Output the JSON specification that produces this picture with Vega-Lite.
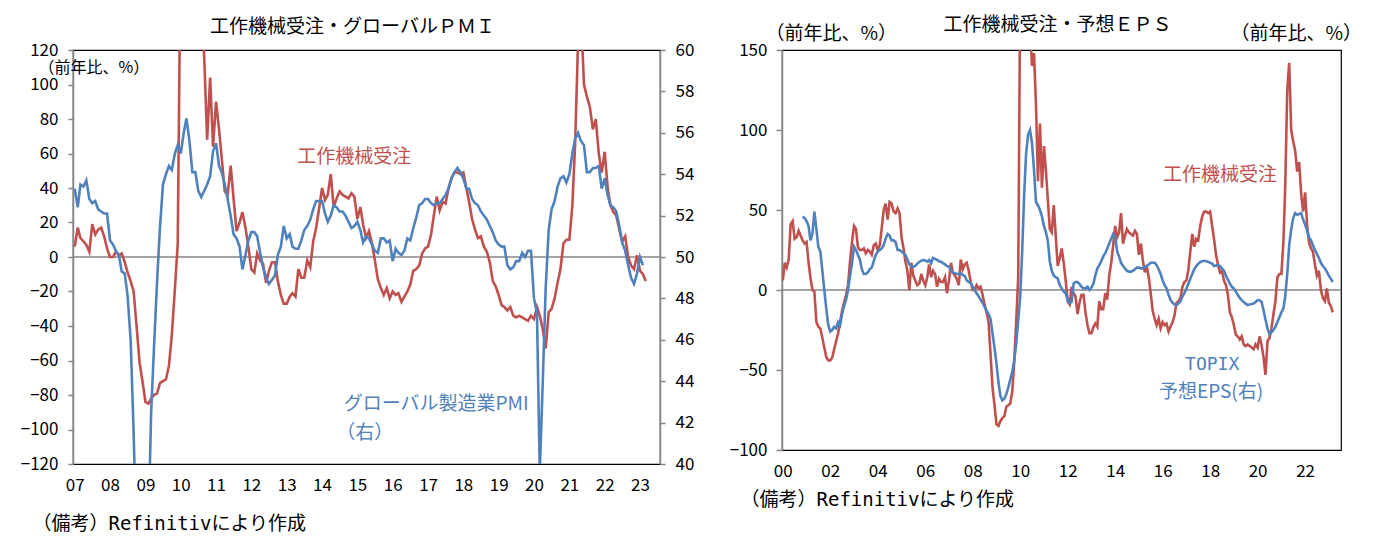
{
  "$schema": "https://vega.github.io/schema/vega-lite/v6.json",
  "background": "white",
  "padding": {"left": 19, "top": 15, "right": 5, "bottom": 5},
  "spacing": 33,
  "config": {
    "font": "Noto Sans CJK JP",
    "view": {"stroke": "#000000", "strokeWidth": 1.2},
    "axis": {"labelFont": "Noto Sans CJK JP", "labelFontSize": 17, "labelColor": "#000000", "domainColor": "#868686", "domainWidth": 1.5, "tickColor": "#868686", "tickWidth": 1.5, "grid": false, "titleFont": "Noto Sans CJK JP", "titleFontSize": 19, "titleFontWeight": "normal", "titleColor": "#000000", "labelOverlap": false, "labelFlush": false},
    "title": {"font": "Noto Sans CJK JP", "fontSize": 19, "fontWeight": "normal", "color": "#000000", "offset": 4}
  },
  "datasets": {
    "orders": [
      {"date":"2000-01","yoy":6},{"date":"2000-02","yoy":17},{"date":"2000-03","yoy":14},{"date":"2000-04","yoy":19},{"date":"2000-05","yoy":41},{"date":"2000-06","yoy":43},{"date":"2000-07","yoy":32},{"date":"2000-08","yoy":33},{"date":"2000-09","yoy":37},{"date":"2000-10","yoy":34},{"date":"2000-11","yoy":31},{"date":"2000-12","yoy":29},
      {"date":"2001-01","yoy":30},{"date":"2001-02","yoy":17},{"date":"2001-03","yoy":8},{"date":"2001-04","yoy":0},{"date":"2001-05","yoy":-1},{"date":"2001-06","yoy":-20},{"date":"2001-07","yoy":-23},{"date":"2001-08","yoy":-24},{"date":"2001-09","yoy":-30},{"date":"2001-10","yoy":-36},{"date":"2001-11","yoy":-42},{"date":"2001-12","yoy":-44},
      {"date":"2002-01","yoy":-44},{"date":"2002-02","yoy":-42},{"date":"2002-03","yoy":-37},{"date":"2002-04","yoy":-32},{"date":"2002-05","yoy":-27},{"date":"2002-06","yoy":-20},{"date":"2002-07","yoy":-13},{"date":"2002-08","yoy":-8},{"date":"2002-09","yoy":-3},{"date":"2002-10","yoy":3},{"date":"2002-11","yoy":18},{"date":"2002-12","yoy":30},
      {"date":"2003-01","yoy":40},{"date":"2003-02","yoy":38},{"date":"2003-03","yoy":27},{"date":"2003-04","yoy":25},{"date":"2003-05","yoy":25},{"date":"2003-06","yoy":26},{"date":"2003-07","yoy":23},{"date":"2003-08","yoy":25},{"date":"2003-09","yoy":24},{"date":"2003-10","yoy":22},{"date":"2003-11","yoy":28},{"date":"2003-12","yoy":29},
      {"date":"2004-01","yoy":25},{"date":"2004-02","yoy":28},{"date":"2004-03","yoy":38},{"date":"2004-04","yoy":50},{"date":"2004-05","yoy":54},{"date":"2004-06","yoy":44},{"date":"2004-07","yoy":55},{"date":"2004-08","yoy":54},{"date":"2004-09","yoy":49},{"date":"2004-10","yoy":48},{"date":"2004-11","yoy":51},{"date":"2004-12","yoy":48},
      {"date":"2005-01","yoy":33},{"date":"2005-02","yoy":26},{"date":"2005-03","yoy":18},{"date":"2005-04","yoy":12},{"date":"2005-05","yoy":0},{"date":"2005-06","yoy":17},{"date":"2005-07","yoy":9},{"date":"2005-08","yoy":6},{"date":"2005-09","yoy":3},{"date":"2005-10","yoy":4},{"date":"2005-11","yoy":10},{"date":"2005-12","yoy":6},
      {"date":"2006-01","yoy":3},{"date":"2006-02","yoy":8},{"date":"2006-03","yoy":16},{"date":"2006-04","yoy":8},{"date":"2006-05","yoy":12},{"date":"2006-06","yoy":10},{"date":"2006-07","yoy":2},{"date":"2006-08","yoy":7},{"date":"2006-09","yoy":5},{"date":"2006-10","yoy":5},{"date":"2006-11","yoy":8},{"date":"2006-12","yoy":-2},
      {"date":"2007-01","yoy":6},{"date":"2007-02","yoy":17},{"date":"2007-03","yoy":11},{"date":"2007-04","yoy":9},{"date":"2007-05","yoy":7},{"date":"2007-06","yoy":3},{"date":"2007-07","yoy":19},{"date":"2007-08","yoy":13},{"date":"2007-09","yoy":16},{"date":"2007-10","yoy":17},{"date":"2007-11","yoy":12},{"date":"2007-12","yoy":5},
      {"date":"2008-01","yoy":0},{"date":"2008-02","yoy":0},{"date":"2008-03","yoy":3},{"date":"2008-04","yoy":1},{"date":"2008-05","yoy":2},{"date":"2008-06","yoy":-3},{"date":"2008-07","yoy":-9},{"date":"2008-08","yoy":-14},{"date":"2008-09","yoy":-20},{"date":"2008-10","yoy":-40},{"date":"2008-11","yoy":-61},{"date":"2008-12","yoy":-72},
      {"date":"2009-01","yoy":-84},{"date":"2009-02","yoy":-85},{"date":"2009-03","yoy":-82},{"date":"2009-04","yoy":-80},{"date":"2009-05","yoy":-79},{"date":"2009-06","yoy":-73},{"date":"2009-07","yoy":-72},{"date":"2009-08","yoy":-71},{"date":"2009-09","yoy":-63},{"date":"2009-10","yoy":-45},{"date":"2009-11","yoy":-19},{"date":"2009-12","yoy":8},
      {"date":"2010-01","yoy":191},{"date":"2010-02","yoy":230},{"date":"2010-03","yoy":215},{"date":"2010-04","yoy":180},{"date":"2010-05","yoy":175},{"date":"2010-06","yoy":165},{"date":"2010-07","yoy":140},{"date":"2010-08","yoy":148},{"date":"2010-09","yoy":115},{"date":"2010-10","yoy":68},{"date":"2010-11","yoy":104},{"date":"2010-12","yoy":64},
      {"date":"2011-01","yoy":90},{"date":"2011-02","yoy":74},{"date":"2011-03","yoy":57},{"date":"2011-04","yoy":38},{"date":"2011-05","yoy":36},{"date":"2011-06","yoy":53},{"date":"2011-07","yoy":34},{"date":"2011-08","yoy":15},{"date":"2011-09","yoy":20},{"date":"2011-10","yoy":26},{"date":"2011-11","yoy":17},{"date":"2011-12","yoy":6},
      {"date":"2012-01","yoy":-7},{"date":"2012-02","yoy":-9},{"date":"2012-03","yoy":2},{"date":"2012-04","yoy":-2},{"date":"2012-05","yoy":-4},{"date":"2012-06","yoy":-15},{"date":"2012-07","yoy":-8},{"date":"2012-08","yoy":-3},{"date":"2012-09","yoy":-3},{"date":"2012-10","yoy":-14},{"date":"2012-11","yoy":-22},{"date":"2012-12","yoy":-27},
      {"date":"2013-01","yoy":-27},{"date":"2013-02","yoy":-23},{"date":"2013-03","yoy":-21},{"date":"2013-04","yoy":-23},{"date":"2013-05","yoy":-7},{"date":"2013-06","yoy":-12},{"date":"2013-07","yoy":-12},{"date":"2013-08","yoy":-2},{"date":"2013-09","yoy":-6},{"date":"2013-10","yoy":9},{"date":"2013-11","yoy":17},{"date":"2013-12","yoy":28},
      {"date":"2014-01","yoy":40},{"date":"2014-02","yoy":33},{"date":"2014-03","yoy":36},{"date":"2014-04","yoy":48},{"date":"2014-05","yoy":29},{"date":"2014-06","yoy":34},{"date":"2014-07","yoy":38},{"date":"2014-08","yoy":36},{"date":"2014-09","yoy":35},{"date":"2014-10","yoy":34},{"date":"2014-11","yoy":37},{"date":"2014-12","yoy":35},
      {"date":"2015-01","yoy":22},{"date":"2015-02","yoy":29},{"date":"2015-03","yoy":19},{"date":"2015-04","yoy":11},{"date":"2015-05","yoy":15},{"date":"2015-06","yoy":8},{"date":"2015-07","yoy":-2},{"date":"2015-08","yoy":-13},{"date":"2015-09","yoy":-18},{"date":"2015-10","yoy":-22},{"date":"2015-11","yoy":-18},{"date":"2015-12","yoy":-24},
      {"date":"2016-01","yoy":-20},{"date":"2016-02","yoy":-22},{"date":"2016-03","yoy":-21},{"date":"2016-04","yoy":-26},{"date":"2016-05","yoy":-23},{"date":"2016-06","yoy":-20},{"date":"2016-07","yoy":-16},{"date":"2016-08","yoy":-8},{"date":"2016-09","yoy":-7},{"date":"2016-10","yoy":-5},{"date":"2016-11","yoy":2},{"date":"2016-12","yoy":5},
      {"date":"2017-01","yoy":6},{"date":"2017-02","yoy":13},{"date":"2017-03","yoy":24},{"date":"2017-04","yoy":35},{"date":"2017-05","yoy":27},{"date":"2017-06","yoy":32},{"date":"2017-07","yoy":31},{"date":"2017-08","yoy":40},{"date":"2017-09","yoy":46},{"date":"2017-10","yoy":49},{"date":"2017-11","yoy":49},{"date":"2017-12","yoy":48},
      {"date":"2018-01","yoy":49},{"date":"2018-02","yoy":40},{"date":"2018-03","yoy":32},{"date":"2018-04","yoy":22},{"date":"2018-05","yoy":16},{"date":"2018-06","yoy":11},{"date":"2018-07","yoy":12},{"date":"2018-08","yoy":6},{"date":"2018-09","yoy":3},{"date":"2018-10","yoy":-3},{"date":"2018-11","yoy":-14},{"date":"2018-12","yoy":-17},
      {"date":"2019-01","yoy":-22},{"date":"2019-02","yoy":-28},{"date":"2019-03","yoy":-29},{"date":"2019-04","yoy":-31},{"date":"2019-05","yoy":-29},{"date":"2019-06","yoy":-34},{"date":"2019-07","yoy":-35},{"date":"2019-08","yoy":-34},{"date":"2019-09","yoy":-35},{"date":"2019-10","yoy":-36},{"date":"2019-11","yoy":-37},{"date":"2019-12","yoy":-34},
      {"date":"2020-01","yoy":-36},{"date":"2020-02","yoy":-29},{"date":"2020-03","yoy":-34},{"date":"2020-04","yoy":-42},{"date":"2020-05","yoy":-53},{"date":"2020-06","yoy":-32},{"date":"2020-07","yoy":-30},{"date":"2020-08","yoy":-24},{"date":"2020-09","yoy":-15},{"date":"2020-10","yoy":-7},{"date":"2020-11","yoy":8},{"date":"2020-12","yoy":10},
      {"date":"2021-01","yoy":10},{"date":"2021-02","yoy":30},{"date":"2021-03","yoy":65},{"date":"2021-04","yoy":125},{"date":"2021-05","yoy":142},{"date":"2021-06","yoy":100},{"date":"2021-07","yoy":93},{"date":"2021-08","yoy":87},{"date":"2021-09","yoy":74},{"date":"2021-10","yoy":80},{"date":"2021-11","yoy":60},{"date":"2021-12","yoy":49},
      {"date":"2022-01","yoy":61},{"date":"2022-02","yoy":40},{"date":"2022-03","yoy":30},{"date":"2022-04","yoy":26},{"date":"2022-05","yoy":24},{"date":"2022-06","yoy":16},{"date":"2022-07","yoy":9},{"date":"2022-08","yoy":12},{"date":"2022-09","yoy":0},{"date":"2022-10","yoy":-5},{"date":"2022-11","yoy":-7},{"date":"2022-12","yoy":1},
      {"date":"2023-01","yoy":-8},{"date":"2023-02","yoy":-10},{"date":"2023-03","yoy":-14}
    ],
    "pmi": [
      {"date":"2007-01","pmi":53.3},{"date":"2007-02","pmi":52.4},{"date":"2007-03","pmi":53.5},{"date":"2007-04","pmi":53.4},{"date":"2007-05","pmi":53.7},{"date":"2007-06","pmi":52.8},{"date":"2007-07","pmi":52.6},{"date":"2007-08","pmi":52.7},{"date":"2007-09","pmi":52.3},{"date":"2007-10","pmi":52.2},{"date":"2007-11","pmi":52.1},{"date":"2007-12","pmi":52.1},
      {"date":"2008-01","pmi":50.8},{"date":"2008-02","pmi":50.6},{"date":"2008-03","pmi":50.3},{"date":"2008-04","pmi":50.1},{"date":"2008-05","pmi":49.3},{"date":"2008-06","pmi":49.2},{"date":"2008-07","pmi":48.1},{"date":"2008-08","pmi":46.0},{"date":"2008-09","pmi":41.5},{"date":"2008-10","pmi":36.0},{"date":"2008-11","pmi":33.7},{"date":"2008-12","pmi":34.5},
      {"date":"2009-01","pmi":35.0},{"date":"2009-02","pmi":37.0},{"date":"2009-03","pmi":42.5},{"date":"2009-04","pmi":45.8},{"date":"2009-05","pmi":48.8},{"date":"2009-06","pmi":51.5},{"date":"2009-07","pmi":53.5},{"date":"2009-08","pmi":54.0},{"date":"2009-09","pmi":54.4},{"date":"2009-10","pmi":54.2},{"date":"2009-11","pmi":55.0},{"date":"2009-12","pmi":55.4},
      {"date":"2010-01","pmi":55.0},{"date":"2010-02","pmi":56.0},{"date":"2010-03","pmi":56.7},{"date":"2010-04","pmi":55.6},{"date":"2010-05","pmi":54.1},{"date":"2010-06","pmi":54.1},{"date":"2010-07","pmi":53.2},{"date":"2010-08","pmi":52.9},{"date":"2010-09","pmi":53.2},{"date":"2010-10","pmi":53.5},{"date":"2010-11","pmi":53.9},{"date":"2010-12","pmi":55.1},
      {"date":"2011-01","pmi":55.5},{"date":"2011-02","pmi":54.4},{"date":"2011-03","pmi":54.1},{"date":"2011-04","pmi":53.5},{"date":"2011-05","pmi":52.8},{"date":"2011-06","pmi":52.0},{"date":"2011-07","pmi":51.1},{"date":"2011-08","pmi":50.9},{"date":"2011-09","pmi":50.5},{"date":"2011-10","pmi":49.4},{"date":"2011-11","pmi":50.1},{"date":"2011-12","pmi":50.8},
      {"date":"2012-01","pmi":51.2},{"date":"2012-02","pmi":51.2},{"date":"2012-03","pmi":51.0},{"date":"2012-04","pmi":50.2},{"date":"2012-05","pmi":49.5},{"date":"2012-06","pmi":49.0},{"date":"2012-07","pmi":48.7},{"date":"2012-08","pmi":48.9},{"date":"2012-09","pmi":49.1},{"date":"2012-10","pmi":50.1},{"date":"2012-11","pmi":50.5},{"date":"2012-12","pmi":51.5},
      {"date":"2013-01","pmi":50.9},{"date":"2013-02","pmi":51.1},{"date":"2013-03","pmi":50.5},{"date":"2013-04","pmi":50.4},{"date":"2013-05","pmi":50.4},{"date":"2013-06","pmi":50.8},{"date":"2013-07","pmi":51.3},{"date":"2013-08","pmi":51.5},{"date":"2013-09","pmi":51.8},{"date":"2013-10","pmi":52.3},{"date":"2013-11","pmi":52.7},{"date":"2013-12","pmi":52.7},
      {"date":"2014-01","pmi":52.7},{"date":"2014-02","pmi":52.1},{"date":"2014-03","pmi":51.7},{"date":"2014-04","pmi":52.0},{"date":"2014-05","pmi":52.5},{"date":"2014-06","pmi":52.4},{"date":"2014-07","pmi":52.2},{"date":"2014-08","pmi":52.2},{"date":"2014-09","pmi":52.0},{"date":"2014-10","pmi":51.7},{"date":"2014-11","pmi":51.4},{"date":"2014-12","pmi":51.5},
      {"date":"2015-01","pmi":51.7},{"date":"2015-02","pmi":51.3},{"date":"2015-03","pmi":50.7},{"date":"2015-04","pmi":51.0},{"date":"2015-05","pmi":50.9},{"date":"2015-06","pmi":50.6},{"date":"2015-07","pmi":50.3},{"date":"2015-08","pmi":50.2},{"date":"2015-09","pmi":50.9},{"date":"2015-10","pmi":50.9},{"date":"2015-11","pmi":50.7},{"date":"2015-12","pmi":50.8},
      {"date":"2016-01","pmi":49.8},{"date":"2016-02","pmi":50.4},{"date":"2016-03","pmi":50.2},{"date":"2016-04","pmi":50.1},{"date":"2016-05","pmi":50.3},{"date":"2016-06","pmi":50.9},{"date":"2016-07","pmi":50.8},{"date":"2016-08","pmi":51.4},{"date":"2016-09","pmi":51.9},{"date":"2016-10","pmi":52.5},{"date":"2016-11","pmi":52.6},{"date":"2016-12","pmi":52.8},
      {"date":"2017-01","pmi":52.8},{"date":"2017-02","pmi":52.6},{"date":"2017-03","pmi":52.5},{"date":"2017-04","pmi":52.6},{"date":"2017-05","pmi":52.6},{"date":"2017-06","pmi":52.8},{"date":"2017-07","pmi":53.0},{"date":"2017-08","pmi":53.3},{"date":"2017-09","pmi":53.8},{"date":"2017-10","pmi":54.1},{"date":"2017-11","pmi":54.3},{"date":"2017-12","pmi":54.1},
      {"date":"2018-01","pmi":53.8},{"date":"2018-02","pmi":53.3},{"date":"2018-03","pmi":53.3},{"date":"2018-04","pmi":52.8},{"date":"2018-05","pmi":52.6},{"date":"2018-06","pmi":52.5},{"date":"2018-07","pmi":52.2},{"date":"2018-08","pmi":52.0},{"date":"2018-09","pmi":51.8},{"date":"2018-10","pmi":51.5},{"date":"2018-11","pmi":51.2},{"date":"2018-12","pmi":50.8},
      {"date":"2019-01","pmi":50.6},{"date":"2019-02","pmi":50.5},{"date":"2019-03","pmi":50.5},{"date":"2019-04","pmi":49.6},{"date":"2019-05","pmi":49.4},{"date":"2019-06","pmi":49.5},{"date":"2019-07","pmi":49.8},{"date":"2019-08","pmi":49.8},{"date":"2019-09","pmi":50.2},{"date":"2019-10","pmi":50.0},{"date":"2019-11","pmi":50.3},{"date":"2019-12","pmi":50.3},
      {"date":"2020-01","pmi":48.0},{"date":"2020-02","pmi":47.3},{"date":"2020-03","pmi":39.6},{"date":"2020-04","pmi":44.0},{"date":"2020-05","pmi":48.5},{"date":"2020-06","pmi":51.3},{"date":"2020-07","pmi":52.3},{"date":"2020-08","pmi":52.7},{"date":"2020-09","pmi":53.4},{"date":"2020-10","pmi":53.8},{"date":"2020-11","pmi":53.9},{"date":"2020-12","pmi":53.6},
      {"date":"2021-01","pmi":54.0},{"date":"2021-02","pmi":55.0},{"date":"2021-03","pmi":55.7},{"date":"2021-04","pmi":56.0},{"date":"2021-05","pmi":55.6},{"date":"2021-06","pmi":55.4},{"date":"2021-07","pmi":54.1},{"date":"2021-08","pmi":54.1},{"date":"2021-09","pmi":54.3},{"date":"2021-10","pmi":54.3},{"date":"2021-11","pmi":54.4},{"date":"2021-12","pmi":53.3},
      {"date":"2022-01","pmi":53.8},{"date":"2022-02","pmi":53.0},{"date":"2022-03","pmi":52.5},{"date":"2022-04","pmi":52.4},{"date":"2022-05","pmi":52.2},{"date":"2022-06","pmi":51.5},{"date":"2022-07","pmi":50.7},{"date":"2022-08","pmi":50.3},{"date":"2022-09","pmi":49.6},{"date":"2022-10","pmi":49.0},{"date":"2022-11","pmi":48.7},{"date":"2022-12","pmi":49.2},
      {"date":"2023-01","pmi":50.0},{"date":"2023-02","pmi":49.6}
    ],
    "eps": [
      {"date":"2000-11","eps":46},{"date":"2000-12","eps":45},
      {"date":"2001-01","eps":43},{"date":"2001-02","eps":40},{"date":"2001-03","eps":31},{"date":"2001-04","eps":35},{"date":"2001-05","eps":49},{"date":"2001-06","eps":38},{"date":"2001-07","eps":27},{"date":"2001-08","eps":24},{"date":"2001-09","eps":12},{"date":"2001-10","eps":0},{"date":"2001-11","eps":-12},{"date":"2001-12","eps":-22},
      {"date":"2002-01","eps":-26},{"date":"2002-02","eps":-25},{"date":"2002-03","eps":-23},{"date":"2002-04","eps":-24},{"date":"2002-05","eps":-20},{"date":"2002-06","eps":-22},{"date":"2002-07","eps":-15},{"date":"2002-08","eps":-10},{"date":"2002-09","eps":-6},{"date":"2002-10","eps":0},{"date":"2002-11","eps":9},{"date":"2002-12","eps":17},
      {"date":"2003-01","eps":27},{"date":"2003-02","eps":25},{"date":"2003-03","eps":22},{"date":"2003-04","eps":19},{"date":"2003-05","eps":13},{"date":"2003-06","eps":10},{"date":"2003-07","eps":10},{"date":"2003-08","eps":11},{"date":"2003-09","eps":13},{"date":"2003-10","eps":14},{"date":"2003-11","eps":18},{"date":"2003-12","eps":22},
      {"date":"2004-01","eps":24},{"date":"2004-02","eps":25},{"date":"2004-03","eps":26},{"date":"2004-04","eps":28},{"date":"2004-05","eps":32},{"date":"2004-06","eps":35},{"date":"2004-07","eps":34},{"date":"2004-08","eps":31},{"date":"2004-09","eps":31},{"date":"2004-10","eps":30},{"date":"2004-11","eps":25},{"date":"2004-12","eps":25},
      {"date":"2005-01","eps":24},{"date":"2005-02","eps":23},{"date":"2005-03","eps":22},{"date":"2005-04","eps":19},{"date":"2005-05","eps":16},{"date":"2005-06","eps":15},{"date":"2005-07","eps":14.6},{"date":"2005-08","eps":15},{"date":"2005-09","eps":16.5},{"date":"2005-10","eps":17.5},{"date":"2005-11","eps":18.3},{"date":"2005-12","eps":18.7},
      {"date":"2006-01","eps":18.5},{"date":"2006-02","eps":17.7},{"date":"2006-03","eps":18.7},{"date":"2006-04","eps":16.7},{"date":"2006-05","eps":20},{"date":"2006-06","eps":19.5},{"date":"2006-07","eps":18.8},{"date":"2006-08","eps":18},{"date":"2006-09","eps":17.7},{"date":"2006-10","eps":16.8},{"date":"2006-11","eps":16},{"date":"2006-12","eps":15},
      {"date":"2007-01","eps":14.6},{"date":"2007-02","eps":12.5},{"date":"2007-03","eps":11},{"date":"2007-04","eps":10.4},{"date":"2007-05","eps":10},{"date":"2007-06","eps":10.2},{"date":"2007-07","eps":10.4},{"date":"2007-08","eps":9.5},{"date":"2007-09","eps":8.7},{"date":"2007-10","eps":6},{"date":"2007-11","eps":5},{"date":"2007-12","eps":4.2},
      {"date":"2008-01","eps":2},{"date":"2008-02","eps":0},{"date":"2008-03","eps":-2},{"date":"2008-04","eps":-4},{"date":"2008-05","eps":-6},{"date":"2008-06","eps":-8},{"date":"2008-07","eps":-10.4},{"date":"2008-08","eps":-13},{"date":"2008-09","eps":-15},{"date":"2008-10","eps":-18},{"date":"2008-11","eps":-27},{"date":"2008-12","eps":-36},
      {"date":"2009-01","eps":-46},{"date":"2009-02","eps":-58},{"date":"2009-03","eps":-66},{"date":"2009-04","eps":-69},{"date":"2009-05","eps":-68},{"date":"2009-06","eps":-65},{"date":"2009-07","eps":-61},{"date":"2009-08","eps":-56},{"date":"2009-09","eps":-51},{"date":"2009-10","eps":-44},{"date":"2009-11","eps":-33},{"date":"2009-12","eps":-19},
      {"date":"2010-01","eps":-4},{"date":"2010-02","eps":25},{"date":"2010-03","eps":58},{"date":"2010-04","eps":85},{"date":"2010-05","eps":97},{"date":"2010-06","eps":100},{"date":"2010-07","eps":92},{"date":"2010-08","eps":75},{"date":"2010-09","eps":55},{"date":"2010-10","eps":53},{"date":"2010-11","eps":50},{"date":"2010-12","eps":46},
      {"date":"2011-01","eps":40},{"date":"2011-02","eps":36},{"date":"2011-03","eps":31},{"date":"2011-04","eps":18},{"date":"2011-05","eps":12},{"date":"2011-06","eps":9},{"date":"2011-07","eps":8},{"date":"2011-08","eps":7.3},{"date":"2011-09","eps":3},{"date":"2011-10","eps":1},{"date":"2011-11","eps":-1},{"date":"2011-12","eps":-2},
      {"date":"2012-01","eps":-6},{"date":"2012-02","eps":-8},{"date":"2012-03","eps":-7.5},{"date":"2012-04","eps":4},{"date":"2012-05","eps":5},{"date":"2012-06","eps":5},{"date":"2012-07","eps":3.75},{"date":"2012-08","eps":2},{"date":"2012-09","eps":1},{"date":"2012-10","eps":1},{"date":"2012-11","eps":2},{"date":"2012-12","eps":0},
      {"date":"2013-01","eps":1.5},{"date":"2013-02","eps":4},{"date":"2013-03","eps":9},{"date":"2013-04","eps":13.5},{"date":"2013-05","eps":15.6},{"date":"2013-06","eps":18},{"date":"2013-07","eps":21},{"date":"2013-08","eps":23},{"date":"2013-09","eps":26},{"date":"2013-10","eps":29},{"date":"2013-11","eps":32},{"date":"2013-12","eps":35},
      {"date":"2014-01","eps":33},{"date":"2014-02","eps":24},{"date":"2014-03","eps":21},{"date":"2014-04","eps":17},{"date":"2014-05","eps":15},{"date":"2014-06","eps":13.5},{"date":"2014-07","eps":12},{"date":"2014-08","eps":11.5},{"date":"2014-09","eps":11.5},{"date":"2014-10","eps":12},{"date":"2014-11","eps":13},{"date":"2014-12","eps":14},
      {"date":"2015-01","eps":14},{"date":"2015-02","eps":13.5},{"date":"2015-03","eps":13.5},{"date":"2015-04","eps":14},{"date":"2015-05","eps":15},{"date":"2015-06","eps":16},{"date":"2015-07","eps":17},{"date":"2015-08","eps":17},{"date":"2015-09","eps":17},{"date":"2015-10","eps":15.5},{"date":"2015-11","eps":13},{"date":"2015-12","eps":10},
      {"date":"2016-01","eps":6},{"date":"2016-02","eps":3},{"date":"2016-03","eps":1},{"date":"2016-04","eps":-3},{"date":"2016-05","eps":-6},{"date":"2016-06","eps":-8},{"date":"2016-07","eps":-9},{"date":"2016-08","eps":-9.4},{"date":"2016-09","eps":-8.5},{"date":"2016-10","eps":-7},{"date":"2016-11","eps":-4},{"date":"2016-12","eps":-2},
      {"date":"2017-01","eps":1},{"date":"2017-02","eps":4},{"date":"2017-03","eps":7},{"date":"2017-04","eps":10},{"date":"2017-05","eps":13},{"date":"2017-06","eps":15},{"date":"2017-07","eps":16.3},{"date":"2017-08","eps":17.5},{"date":"2017-09","eps":18},{"date":"2017-10","eps":18.3},{"date":"2017-11","eps":18},{"date":"2017-12","eps":17.7},
      {"date":"2018-01","eps":17},{"date":"2018-02","eps":16.5},{"date":"2018-03","eps":15},{"date":"2018-04","eps":15.3},{"date":"2018-05","eps":15.6},{"date":"2018-06","eps":15},{"date":"2018-07","eps":13.5},{"date":"2018-08","eps":12},{"date":"2018-09","eps":9},{"date":"2018-10","eps":6.5},{"date":"2018-11","eps":4},{"date":"2018-12","eps":2},
      {"date":"2019-01","eps":1},{"date":"2019-02","eps":-1},{"date":"2019-03","eps":-3},{"date":"2019-04","eps":-5},{"date":"2019-05","eps":-6.3},{"date":"2019-06","eps":-7.5},{"date":"2019-07","eps":-8.5},{"date":"2019-08","eps":-9.4},{"date":"2019-09","eps":-9},{"date":"2019-10","eps":-8.8},{"date":"2019-11","eps":-8.5},{"date":"2019-12","eps":-7.5},
      {"date":"2020-01","eps":-6.3},{"date":"2020-02","eps":-6.5},{"date":"2020-03","eps":-7.3},{"date":"2020-04","eps":-12.5},{"date":"2020-05","eps":-18.5},{"date":"2020-06","eps":-24},{"date":"2020-07","eps":-27.5},{"date":"2020-08","eps":-26.5},{"date":"2020-09","eps":-25},{"date":"2020-10","eps":-23},{"date":"2020-11","eps":-20},{"date":"2020-12","eps":-17},
      {"date":"2021-01","eps":-14},{"date":"2021-02","eps":-11.5},{"date":"2021-03","eps":-4},{"date":"2021-04","eps":10},{"date":"2021-05","eps":28},{"date":"2021-06","eps":38},{"date":"2021-07","eps":45},{"date":"2021-08","eps":48},{"date":"2021-09","eps":47},{"date":"2021-10","eps":47.5},{"date":"2021-11","eps":48},{"date":"2021-12","eps":44},
      {"date":"2022-01","eps":41},{"date":"2022-02","eps":37},{"date":"2022-03","eps":33},{"date":"2022-04","eps":31},{"date":"2022-05","eps":28},{"date":"2022-06","eps":25},{"date":"2022-07","eps":22.5},{"date":"2022-08","eps":20},{"date":"2022-09","eps":17},{"date":"2022-10","eps":15},{"date":"2022-11","eps":13.5},{"date":"2022-12","eps":11.5},
      {"date":"2023-01","eps":9},{"date":"2023-02","eps":7},{"date":"2023-03","eps":5}
    ]
  },
  "hconcat": [
    {
      "width": 587,
      "height": 414,
      "title": {"text": "工作機械受注・グローバルＰＭＩ", "dx": -14, "offset": 4},
      "layer": [
        {
          "data": {"values": [{}]},
          "mark": {"type": "rule", "color": "#868686", "strokeWidth": 1.5},
          "encoding": {"y": {"datum": 0, "type": "quantitative", "scale": {"domain": [-120, 120], "nice": false, "zero": false}, "axis": null}}
        },
        {
          "data": {"name": "orders"},
          "transform": [{"filter": "time(datum.date) >= utc(2007,0,1)"}],
          "mark": {"type": "line", "color": "#C0504D", "strokeWidth": 2.6, "clip": true},
          "encoding": {
            "x": {"field": "date", "type": "temporal",
              "scale": {"type": "utc", "nice": false, "domain": [{"year": 2006, "month": 12, "date": 14, "utc": true}, {"year": 2023, "month": 7, "date": 27, "utc": true}]},
              "axis": {"values": [{"year":2007,"utc":true},{"year":2008,"utc":true},{"year":2009,"utc":true},{"year":2010,"utc":true},{"year":2011,"utc":true},{"year":2012,"utc":true},{"year":2013,"utc":true},{"year":2014,"utc":true},{"year":2015,"utc":true},{"year":2016,"utc":true},{"year":2017,"utc":true},{"year":2018,"utc":true},{"year":2019,"utc":true},{"year":2020,"utc":true},{"year":2021,"utc":true},{"year":2022,"utc":true},{"year":2023,"utc":true}],
                "format": "%y", "labelOverlap": false, "labelFlush": false, "ticks": false, "tickSize": 0, "domain": false, "labelPadding": 13,
                "title": "（備考）Refinitivにより作成", "titleFont": "DejaVu Sans Mono, Noto Sans CJK JP", "titleAlign": "left", "titleAnchor": "start", "titleBaseline": "middle", "titleX": -41, "titleY": 59}},
            "y": {"field": "yoy", "type": "quantitative",
              "scale": {"domain": [-120, 120], "nice": false, "zero": false},
              "axis": {"orient": "left", "values": [-120,-100,-80,-60,-40,-20,0,20,40,60,80,100,120], "labelOverlap": false, "tickSize": 5, "labelPadding": 10,
                "title": "（前年比、%）", "titleFontSize": 16, "titleAngle": 0, "titleAlign": "left", "titleBaseline": "middle", "titleX": -35, "titleY": 17}}
          }
        },
        {
          "layer": [
            {
              "data": {"name": "pmi"},
              "mark": {"type": "line", "color": "#4F81BD", "strokeWidth": 2.6, "clip": true},
              "encoding": {
                "x": {"field": "date", "type": "temporal", "scale": {"type": "utc"},
                  "axis": {"values": [{"year":2007,"utc":true},{"year":2008,"utc":true},{"year":2009,"utc":true},{"year":2010,"utc":true},{"year":2011,"utc":true},{"year":2012,"utc":true},{"year":2013,"utc":true},{"year":2014,"utc":true},{"year":2015,"utc":true},{"year":2016,"utc":true},{"year":2017,"utc":true},{"year":2018,"utc":true},{"year":2019,"utc":true},{"year":2020,"utc":true},{"year":2021,"utc":true},{"year":2022,"utc":true},{"year":2023,"utc":true}],
                    "format": "%y", "labelOverlap": false, "labelFlush": false, "ticks": false, "tickSize": 0, "domain": false, "labelPadding": 13,
                    "title": "（備考）Refinitivにより作成", "titleFont": "DejaVu Sans Mono, Noto Sans CJK JP", "titleAlign": "left", "titleAnchor": "start", "titleBaseline": "middle", "titleX": -41, "titleY": 59}},
                "y": {"field": "pmi", "type": "quantitative",
                  "scale": {"domain": [40, 60], "nice": false, "zero": false},
                  "axis": {"orient": "right", "values": [40,42,44,46,48,50,52,54,56,58,60], "labelOverlap": false, "tickSize": 5, "labelPadding": 10, "title": null}}
              }
            },
            {
              "data": {"values": [{}]},
              "mark": {"type": "text", "text": "工作機械受注", "color": "#C0504D", "fontSize": 19, "align": "center", "baseline": "middle"},
              "encoding": {
                "x": {"datum": {"year": 2014, "month": 12, "date": 1, "utc": true}, "type": "temporal", "scale": {"type": "utc"},
                  "axis": {"values": [{"year":2007,"utc":true},{"year":2008,"utc":true},{"year":2009,"utc":true},{"year":2010,"utc":true},{"year":2011,"utc":true},{"year":2012,"utc":true},{"year":2013,"utc":true},{"year":2014,"utc":true},{"year":2015,"utc":true},{"year":2016,"utc":true},{"year":2017,"utc":true},{"year":2018,"utc":true},{"year":2019,"utc":true},{"year":2020,"utc":true},{"year":2021,"utc":true},{"year":2022,"utc":true},{"year":2023,"utc":true}],
                    "format": "%y", "labelOverlap": false, "labelFlush": false, "ticks": false, "tickSize": 0, "domain": false, "labelPadding": 13,
                    "title": "（備考）Refinitivにより作成", "titleFont": "DejaVu Sans Mono, Noto Sans CJK JP", "titleAlign": "left", "titleAnchor": "start", "titleBaseline": "middle", "titleX": -41, "titleY": 59}},
                "y": {"datum": 54.83, "type": "quantitative"}
              }
            },
            {
              "data": {"values": [{}]},
              "mark": {"type": "text", "text": "グローバル製造業PMI", "color": "#4F81BD", "fontSize": 19, "align": "center", "baseline": "middle"},
              "encoding": {
                "x": {"datum": {"year": 2017, "month": 3, "date": 25, "utc": true}, "type": "temporal", "scale": {"type": "utc"},
                  "axis": {"values": [{"year":2007,"utc":true},{"year":2008,"utc":true},{"year":2009,"utc":true},{"year":2010,"utc":true},{"year":2011,"utc":true},{"year":2012,"utc":true},{"year":2013,"utc":true},{"year":2014,"utc":true},{"year":2015,"utc":true},{"year":2016,"utc":true},{"year":2017,"utc":true},{"year":2018,"utc":true},{"year":2019,"utc":true},{"year":2020,"utc":true},{"year":2021,"utc":true},{"year":2022,"utc":true},{"year":2023,"utc":true}],
                    "format": "%y", "labelOverlap": false, "labelFlush": false, "ticks": false, "tickSize": 0, "domain": false, "labelPadding": 13,
                    "title": "（備考）Refinitivにより作成", "titleFont": "DejaVu Sans Mono, Noto Sans CJK JP", "titleAlign": "left", "titleAnchor": "start", "titleBaseline": "middle", "titleX": -41, "titleY": 59}},
                "y": {"datum": 42.92, "type": "quantitative"}
              }
            },
            {
              "data": {"values": [{}]},
              "mark": {"type": "text", "text": "（右）", "color": "#4F81BD", "fontSize": 19, "align": "center", "baseline": "middle"},
              "encoding": {
                "x": {"datum": {"year": 2015, "month": 3, "date": 18, "utc": true}, "type": "temporal", "scale": {"type": "utc"},
                  "axis": {"values": [{"year":2007,"utc":true},{"year":2008,"utc":true},{"year":2009,"utc":true},{"year":2010,"utc":true},{"year":2011,"utc":true},{"year":2012,"utc":true},{"year":2013,"utc":true},{"year":2014,"utc":true},{"year":2015,"utc":true},{"year":2016,"utc":true},{"year":2017,"utc":true},{"year":2018,"utc":true},{"year":2019,"utc":true},{"year":2020,"utc":true},{"year":2021,"utc":true},{"year":2022,"utc":true},{"year":2023,"utc":true}],
                    "format": "%y", "labelOverlap": false, "labelFlush": false, "ticks": false, "tickSize": 0, "domain": false, "labelPadding": 13,
                    "title": "（備考）Refinitivにより作成", "titleFont": "DejaVu Sans Mono, Noto Sans CJK JP", "titleAlign": "left", "titleAnchor": "start", "titleBaseline": "middle", "titleX": -41, "titleY": 59}},
                "y": {"datum": 41.52, "type": "quantitative"}
              }
            }
          ]
        }
      ],
      "resolve": {"scale": {"y": "independent"}}
    },
    {
      "width": 559,
      "height": 400,
      "title": {"text": "工作機械受注・予想ＥＰＳ", "dx": -4, "offset": -11},
      "layer": [
        {
          "layer": [
            {
              "data": {"values": [{}]},
              "mark": {"type": "rule", "color": "#868686", "strokeWidth": 1.5},
              "encoding": {"y": {"datum": 0, "type": "quantitative"}}
            },
            {
              "data": {"name": "orders"},
              "mark": {"type": "line", "color": "#C0504D", "strokeWidth": 2.6, "clip": true},
              "encoding": {
                "x": {"field": "date", "type": "temporal",
                  "scale": {"type": "utc", "nice": false, "domain": [{"year": 1999, "month": 12, "date": 20, "utc": true}, {"year": 2023, "month": 7, "date": 7, "utc": true}]},
                  "axis": {"values": [{"year":2000,"utc":true},{"year":2002,"utc":true},{"year":2004,"utc":true},{"year":2006,"utc":true},{"year":2008,"utc":true},{"year":2010,"utc":true},{"year":2012,"utc":true},{"year":2014,"utc":true},{"year":2016,"utc":true},{"year":2018,"utc":true},{"year":2020,"utc":true},{"year":2022,"utc":true}],
                    "format": "%y", "labelOverlap": false, "labelFlush": false, "ticks": false, "tickSize": 0, "domain": false, "labelPadding": 13,
                    "title": "（備考）Refinitivにより作成", "titleFont": "DejaVu Sans Mono, Noto Sans CJK JP", "titleAlign": "left", "titleAnchor": "start", "titleBaseline": "middle", "titleX": -42, "titleY": 49}},
                "y": {"field": "yoy", "type": "quantitative",
                  "scale": {"domain": [-100, 150], "nice": false, "zero": false},
                  "axis": {"values": [-100,-50,0,50,100,150], "labelOverlap": false, "tickSize": 6, "labelPadding": 9,
                    "title": "（前年比、%）", "titleAngle": 0, "titleAlign": "left", "titleBaseline": "middle", "titleX": -17, "titleY": -17}}
              }
            },
            {
              "data": {"name": "eps"},
              "mark": {"type": "line", "color": "#4F81BD", "strokeWidth": 2.6, "clip": true},
              "encoding": {
                "x": {"field": "date", "type": "temporal", "scale": {"type": "utc"}},
                "y": {"field": "eps", "type": "quantitative"}
              }
            },
            {
              "data": {"values": [{}]},
              "mark": {"type": "text", "text": "工作機械受注", "color": "#C0504D", "fontSize": 19, "align": "center", "baseline": "middle"},
              "encoding": {
                "x": {"datum": {"year": 2018, "month": 6, "date": 1, "utc": true}, "type": "temporal", "scale": {"type": "utc"}},
                "y": {"datum": 72, "type": "quantitative"}
              }
            },
            {
              "data": {"values": [{}]},
              "mark": {"type": "text", "text": "TOPIX", "color": "#4F81BD", "fontSize": 18, "font": "DejaVu Sans Mono", "align": "center", "baseline": "middle"},
              "encoding": {
                "x": {"datum": {"year": 2018, "month": 2, "date": 1, "utc": true}, "type": "temporal", "scale": {"type": "utc"}},
                "y": {"datum": -46.75, "type": "quantitative"}
              }
            },
            {
              "data": {"values": [{}]},
              "mark": {"type": "text", "text": "予想EPS(右)", "color": "#4F81BD", "fontSize": 19, "align": "center", "baseline": "middle"},
              "encoding": {
                "x": {"datum": {"year": 2018, "month": 1, "date": 15, "utc": true}, "type": "temporal", "scale": {"type": "utc"}},
                "y": {"datum": -63.9, "type": "quantitative"}
              }
            }
          ]
        },
        {
          "data": {"values": [{}]},
          "mark": {"type": "rule", "opacity": 0},
          "encoding": {
            "y": {"datum": 0, "type": "quantitative",
              "axis": {"orient": "right", "labels": false, "ticks": false, "domain": false,
                "title": "（前年比、%）", "titleAngle": 0, "titleAlign": "left", "titleBaseline": "middle", "titleX": -111, "titleY": -17}}
          }
        }
      ],
      "resolve": {"axis": {"y": "independent"}}
    }
  ]
}
